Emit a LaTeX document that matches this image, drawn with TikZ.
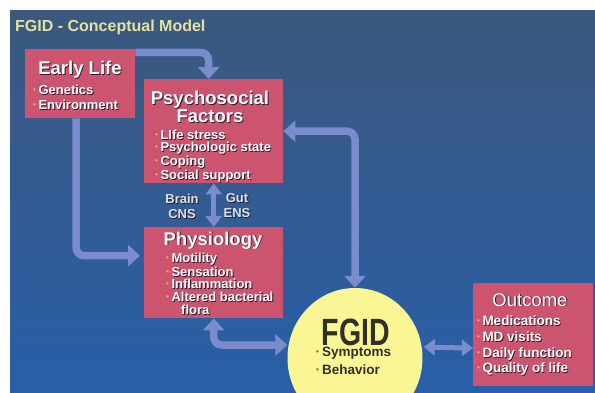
\documentclass[tikz,border=0pt]{standalone}
\usepackage{fontspec}
\setmainfont{Liberation Sans}
\newfontfamily\condfont[FakeStretch=0.75]{Liberation Sans}
\usetikzlibrary{arrows.meta,positioning,shapes.geometric}

\definecolor{slidetop}{RGB}{60,88,125}
\definecolor{slidebot}{RGB}{40,95,168}
\definecolor{boxred}{RGB}{204,84,110}
\definecolor{arrowblue}{RGB}{122,140,204}
\definecolor{fgidfill}{RGB}{250,246,150}
\definecolor{titleyellow}{RGB}{228,226,160}
\definecolor{dotc}{RGB}{232,168,120}
\definecolor{reddot}{RGB}{200,70,60}
\definecolor{shadowc}{RGB}{40,30,45}
\definecolor{sidegray}{RGB}{222,224,232}
\definecolor{fgidtext}{RGB}{48,48,40}

% white text with a small drop shadow
\newcommand{\sh}[1]{\makebox[0pt][l]{\kern.9pt\raisebox{-.9pt}{\color{shadowc}#1}}#1}
\newcommand{\itm}[1]{{\color{dotc}\raisebox{2pt}{\fontsize{8}{8}\selectfont\textbullet}}\kern2.5pt\sh{#1}}
\newcommand{\fitm}[1]{{\color{reddot}\raisebox{2pt}{\fontsize{8}{8}\selectfont\textbullet}}\kern3pt#1}

\begin{document}
\begin{tikzpicture}[
  x=1pt,y=-1pt,
  box/.style={fill=boxred,inner sep=0pt,anchor=north west},
  hdr/.style={text=white,font=\bfseries\fontsize{18.5}{17}\selectfont,align=center,inner sep=0pt,anchor=base},
  items/.style={text=white,font=\bfseries\fontsize{13}{#1}\selectfont,align=left,inner sep=0pt,anchor=north west},
  side/.style={text=sidegray,font=\bfseries\fontsize{13}{15}\selectfont,align=center,inner sep=0pt,anchor=north},
  arr/.style={draw=arrowblue,line width=7.5pt,rounded corners=8pt,-{Triangle[length=12pt,width=21pt]}},
  dblarr/.style={arr,{Triangle[length=12pt,width=21pt]}-{Triangle[length=12pt,width=21pt]}},
  gutarr/.style={draw=arrowblue,line width=5pt,{Triangle[length=11pt,width=16pt]}-{Triangle[length=11pt,width=16pt]}}
]
\useasboundingbox (0,0) rectangle (595,393);
\shade[top color=slidetop,bottom color=slidebot] (10,11) rectangle (595,392);

\node[anchor=base west,inner sep=0pt,text=titleyellow,font=\bfseries\fontsize{16}{18}\selectfont] (title) at (15,32) {FGID - Conceptual Model};

% boxes
\node[box,minimum width=110pt,minimum height=69pt] (early) at (25,49) {};
\node[box,minimum width=139pt,minimum height=104pt] (psych) at (144,79) {};
\node[box,minimum width=139pt,minimum height=91pt] (physio) at (144,227) {};
\node[box,minimum width=120pt,minimum height=103pt] (outcome) at (473,283) {};
\node[ellipse,fill=fgidfill,minimum width=135pt,minimum height=140pt,inner sep=0pt] (fgid) at (355,358) {};

% box texts
\node[hdr] (earlyhd) at (80,75) {\sh{Early Life}};
\node[items=15] (earlyit) at (33,84.5) {\itm{Genetics}\\\itm{Environment}};
\node[hdr,anchor=north] (psychhd) at (210,90.5) {\sh{Psychosocial}\\\sh{Factors}};
\node[items=12.2] (psychit) at (155,129.5) {\itm{LIfe stress}\\\itm{Psychologic state}\\\itm{Coping}\\\itm{Social support}};
\node[hdr] (physiohd) at (213,245) {\sh{Physiology}};
\node[items=12.75] (physioit) at (166,252.5) {\itm{Motility}\\\itm{Sensation}\\\itm{Inflammation}\\\itm{Altered bacterial}\\\hspace*{15pt}\sh{flora}};
\node[hdr,font=\fontsize{18.5}{20}\selectfont] (outhd) at (530,306) {\sh{Outcome}};
\node[items=15.6,font=\bfseries\fontsize{13.5}{15.6}\selectfont] (outit) at (477,316) {\itm{Medications}\\\itm{MD visits}\\\itm{Daily function}\\\itm{Quality of life}};

% ellipse texts
\node[anchor=base,inner sep=0pt,text=fgidtext,font=\condfont\bfseries\fontsize{38}{38}\selectfont] (fgidhd) at (356,345) {FGID};
\node[anchor=north west,inner sep=0pt,align=left,text=fgidtext,font=\bfseries\fontsize{13.5}{18}\selectfont] (fgidit) at (316,346.5) {\fitm{Symptoms}\\\fitm{Behavior}};

% brain-gut axis
\node[side] (brain) at (182,193.5) {\sh{Brain}\\\sh{CNS}};
\node[side] (gut) at (237,193.5) {\sh{Gut}\\\sh{ENS}};

% connectors
\draw[arr] ([yshift=-3.5pt]early.north east) -| ([xshift=-5pt]psych.north);
\draw[arr] ([xshift=-4pt]early.south) |- ([xshift=-4pt,yshift=17pt]physio.west);
\draw[dblarr] (psych.east) -| (fgid.north);
\draw[gutarr] (psych.south) -- (physio.north);
\draw[dblarr] (physio.south) |- ([yshift=13pt]fgid.west);
\draw[gutarr] ([yshift=11pt,xshift=1pt]fgid.east) -- ([yshift=-13.5pt]outcome.west);
\end{tikzpicture}
\end{document}
